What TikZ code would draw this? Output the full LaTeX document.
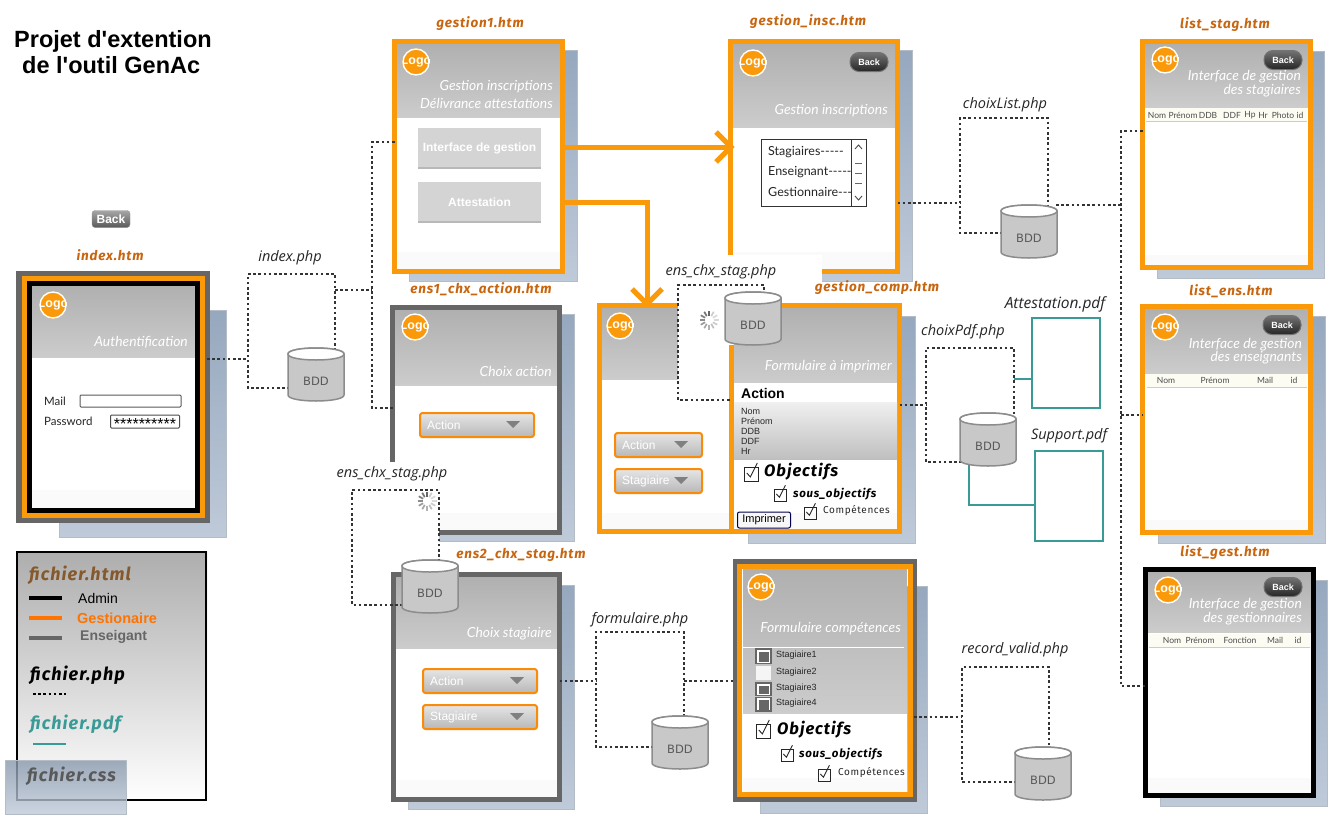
\documentclass[tikz,border=0pt]{standalone}
\usepackage{fontspec}
\setmainfont{Liberation Sans}
\newfontfamily\lat{Lato}
\newfontfamily\hand[LetterSpace=6]{Fira Sans}
\newfontfamily\opn{Open Sans}
\newfontfamily\djv{DejaVu Sans}
\newfontfamily\ttlf{Liberation Sans}
\definecolor{orfr}{HTML}{FA9A0A}
\definecolor{grfr}{HTML}{666666}
\definecolor{lblor}{HTML}{C8650F}
\definecolor{shadtop}{HTML}{96A8BE}
\definecolor{shadbot}{HTML}{BFCAD9}
\definecolor{shadln}{HTML}{B4BCC6}
\definecolor{hdtop}{HTML}{B0B0B0}
\definecolor{hdbot}{HTML}{CCCCCC}
\definecolor{tealx}{HTML}{3A9A96}
\definecolor{bddf}{HTML}{C8C8C8}
\definecolor{bddl}{HTML}{8C8C8C}
\newcounter{nn}
\newcommand\fs[1]{\fontsize{#1}{#1}\selectfont}
\tikzset{
 x=1pt,y=-1pt,
 pagefile/.style={font=\hand\bfseries\itshape\fs{13.5},text=lblor},
 phpfile/.style={font=\opn\itshape\fs{14.5},text=black!85},
 headt/.style={font=\lat\itshape\fs{13.9},text=white,anchor=east,align=right},
 phpline/.style={draw=black!80,line width=1.1pt,dash pattern=on 2.6pt off 2.6pt},
 pdfline/.style={draw=tealx,line width=1.2pt},
 flowline/.style={draw=orfr,line width=5pt},
 handsmall/.style={font=\lat\fs{11.5},text=black!85,anchor=west},
 tabh/.style={font=\lat\fs{8.5},text=black!70},
 backdark/.style={draw=black!55,line width=1pt,rounded corners=9pt,top color=black!55,bottom color=black!85,minimum width=38pt,minimum height=19pt,inner sep=0pt,text=white,font=\bfseries\fs{9}},
 greybtn/.style={fill=black!17,inner sep=0pt,text=white,font=\bfseries\fs{12}},
}
\newcommand\tx[4][]{\stepcounter{nn}\node[inner sep=0pt,#1] (n\arabic{nn}) at ({#2},{#3}) {#4};}
\newcommand\shadowbox[4]{\shade[top color=shadtop,bottom color=shadbot] (#1,#2) rectangle (#3,#4);\draw[shadln,line width=1pt] (#1,#2) rectangle (#3,#4);}
% panel: x0 y0 x1 y1 header-bottom band-top
\newcommand\panel[6]{\fill[white] (#1,#2) rectangle (#3,#4);
 \shade[top color=hdtop,bottom color=hdbot] (#1,#2) rectangle (#3,#5);
 \fill[black!2] (#1,#6) rectangle (#3,#4);}
% frame: name x0 y0 x1 y1 colour lw (outer extents)
\newcommand\frm[7]{\node[draw=#6,line width=#7pt,inner sep=0pt,outer sep=0pt,minimum width={#4-#2-#7},minimum height={#5-#3-#7}] (#1) at ({(#2+#4)/2},{(#3+#5)/2}) {};}
\newcommand\logo[2]{\stepcounter{nn}\begin{scope}\clip (#1,#2) circle (13.5);
 \fill[orfr] (#1,#2) circle (13.5);
 \node[inner sep=0pt,text=white,font=\bfseries\fs{12.5}] (n\arabic{nn}) at (#1,#2) {Logo};
 \end{scope}\draw[white,line width=1.4pt] (#1,#2) circle (13);}
\newcommand\bdd[3]{\begin{scope}[shift={(#2,#3)}]
 \path[fill=bddf,draw=bddl,line width=1.5pt] (0,6) -- (0,47) .. controls (0,55) and (56,55) .. (56,47) -- (56,6) .. controls (56,-2) and (0,-2) .. (0,6) -- cycle;
 \path[fill=white,draw=bddl,line width=1.5pt] (0,6) .. controls (0,-2) and (56,-2) .. (56,6) .. controls (56,14) and (0,14) .. (0,6) -- cycle;
 \node[inner sep=0pt,font=\djv\fs{11.5},text=black!65] (#1) at (28,33) {BDD};
 \end{scope}}
\newcommand\combo[6]{\draw[draw=orfr!90!red,line width=2pt,rounded corners=2.5pt,top color=black!10,bottom color=black!28] (#1,#2) rectangle (#3,#4);
 \tx[anchor=west,text=white,font=\fs{12}]{#1+7}{(#2+#4)/2+.5}{#5}
 \fill[black!50] (#6-7,#2+8) -- (#6+7,#2+8) -- (#6,#2+15) -- cycle;}
\newcommand\chk[3]{\draw[black!85,line width=.9pt] (#1-#3/2,#2-#3/2+2) rectangle (#1+#3/2,#2+#3/2+2);
 \draw[black!85,line width=.9pt] (#1-#3*.3,#2+1) -- (#1-#3*.05,#2+#3*.35) -- (#1+#3*.45,#2-#3*.65);}
\newcommand\spin[2]{\foreach \a/\g in {0/15,30/20,60/25,90/30,120/35,150/40,180/45,210/50,240/55,270/60,300/20,330/15}{\draw[black!\g,line width=1.7pt] ({#1+4.5*cos(\a)},{#2+4.5*sin(\a)}) -- ({#1+9.5*cos(\a)},{#2+9.5*sin(\a)});}}
\newcommand\tabbar[4]{\fill[black!22!yellow!5!white] (#1,#2) rectangle (#3,#4);\fill[black!20] (#1,#4-1.5) rectangle (#3,#4);}
\begin{document}
\begin{tikzpicture}
\useasboundingbox (0,0) rectangle (1337,822);
\fill[white] (0,0) rectangle (1337,822);
% title
\tx[anchor=west,font=\ttlf\bfseries\fs{23.5}]{14}{41}{Projet d'extention}
\tx[anchor=west,font=\ttlf\bfseries\fs{23.5}]{22}{65}{de l'outil GenAc}
% small back
\node[rounded corners=3pt,top color=black!35,bottom color=black!65,draw=black!40,minimum width=38pt,minimum height=17pt,inner sep=0pt,text=white,font=\bfseries\fs{12}] (topback) at (111,219) {Back};
% ---- index
\shadowbox{59}{310}{226}{537}
\panel{32}{286}{195}{508}{357}{490}
\frm{idxg}{16}{271}{210}{523}{grfr}{6}
\frm{idxo}{22}{276}{205}{518}{orfr}{5}
\frm{idxk}{27}{281}{200}{513}{black}{5}
\logo{53}{305}
\tx[headt]{188}{342}{Authentification}
\tx[handsmall]{44}{401}{Mail}
\tx[handsmall]{44}{421}{Password}
\node[draw=black!65,line width=1pt,rounded corners=1pt,minimum width=101pt,minimum height=12pt,inner sep=0pt] (mailf) at (130.5,401) {};
\node[draw=black!70,line width=1pt,rounded corners=1pt,minimum width=69pt,minimum height=13pt,inner sep=0pt,font=\fs{16},text height=6pt,text depth=0pt] (passf) at (145,421.5) {\raisebox{-4.5pt}{**********}};
\tx[pagefile]{110}{255}{index.htm}
% ---- gestion1
\shadowbox{409}{50}{577}{281}
\panel{397}{44}{560}{269}{117}{252}
\frm{gone}{392}{39}{565}{274}{orfr}{5}
\logo{416}{62}
\tx[headt]{553}{87}{Gestion inscriptions}
\tx[headt]{553}{103}{Délivrance attestations}
\node[greybtn,minimum width=123pt,minimum height=40pt] (bif) at (479.5,148) {Interface de gestion};
\fill[black!28] (418,167) rectangle (541,168.5);
\node[greybtn,minimum width=123pt,minimum height=40pt] (bat) at (479.5,202) {Attestation};
\fill[black!28] (418,221) rectangle (541,222.5);
\tx[pagefile]{480}{24}{gestion1.htm}
% ---- gestion_insc
\shadowbox{745}{50}{912}{281}
\panel{733}{44}{895}{269}{127}{252}
\frm{gins}{728}{39}{900}{274}{orfr}{5}
\logo{753}{63}
\node[backdark] (bins) at (869,62) {Back};
\tx[headt]{888}{111}{Gestion inscriptions}
\tx[pagefile]{808}{22}{gestion\_insc.htm}
\draw[black!80,line width=1pt] (761,139) rectangle (866,206);
\draw[black!80,line width=1pt] (851,139) -- (851,206);
\tx[handsmall,font=\lat\fs{12.5}]{768}{152}{Stagiaires-----}
\tx[handsmall,font=\lat\fs{12.5}]{768}{172}{Enseignant-----}
\tx[handsmall,font=\lat\fs{12.5}]{768}{192}{Gestionnaire---}
\draw[black!70,line width=.9pt] (855,149) -- (858.5,145) -- (862,149);
\draw[black!70,line width=.9pt] (855,196) -- (858.5,200) -- (862,196);
\foreach \yy in {163,173,183}{\draw[black!60,line width=1pt] (855,\yy) -- (862,\yy);}
% cut-out below gestion_insc
\fill[white] (720,255) rectangle (822,288);
% ---- list_stag
\shadowbox{1157}{51}{1324}{278}
\panel{1145}{44}{1308}{265}{107}{255}
\frm{lsta}{1140}{39}{1313}{270}{orfr}{5}
\logo{1165}{60}
\node[backdark] (bsta) at (1283,60) {Back};
\tx[headt]{1301}{77}{Interface de gestion}
\tx[headt]{1301}{91}{des stagiaires}
\tabbar{1146}{108}{1307}{122}
\foreach \xx/\lb in {1157/Nom,1183/Prénom,1208/DDB,1232/DDF,1250/Hp,1263/Hr,1283/Photo,1300/id}{\tx[tabh]{\xx}{115}{\lb}}
\tx[pagefile]{1225}{25}{list\_stag.htm}
% ---- list_ens
\shadowbox{1158}{316}{1325}{543}
\panel{1145}{309}{1308}{530}{373}{520}
\frm{lens}{1140}{304}{1313}{535}{orfr}{5}
\logo{1165}{327}
\node[backdark] (bens) at (1282,325) {Back};
\tx[headt]{1302}{345}{Interface de gestion}
\tx[headt]{1302}{358}{des enseignants}
\tabbar{1147}{374}{1307}{388}
\foreach \xx/\lb in {1166/Nom,1215/Prénom,1265/Mail,1294/id}{\tx[tabh]{\xx}{380}{\lb}}
\tx[pagefile]{1231}{291}{list\_ens.htm}
% ---- list_gest
\shadowbox{1160}{580}{1327}{806}
\panel{1148}{572}{1311}{793}{632}{778}
\frm{lges}{1143}{567}{1316}{798}{black}{5}
\logo{1168}{590}
\node[backdark] (bges) at (1283,587) {Back};
\tx[headt]{1302}{605}{Interface de gestion}
\tx[headt]{1302}{619}{des gestionnaires}
\tabbar{1149}{634}{1310}{648}
\foreach \xx/\lb in {1172/Nom,1200/Prénom,1240/Fonction,1275/Mail,1298/id}{\tx[tabh]{\xx}{640}{\lb}}
\tx[pagefile]{1225}{553}{list\_gest.htm}
% ---- ens1
\shadowbox{408}{314}{574}{541}
\panel{395}{310}{557}{530}{385}{513}
\frm{eone}{390}{305}{562}{535}{grfr}{5}
\logo{415}{327}
\tx[headt]{552}{371}{Choix action}
\combo{420}{413}{534}{437}{Action}{513}
\tx[pagefile]{481}{289}{ens1\_chx\_action.htm}
% ---- ens2
\shadowbox{408}{585}{574}{809}
\panel{396}{577}{557}{797}{648}{780}
\frm{etwo}{391}{572}{562}{802}{grfr}{5}
\tx[headt]{552}{634}{Choix stagiaire}
\combo{423}{669}{537}{693}{Action}{517}
\combo{423}{705}{537}{729}{Stagiaire}{517}
\tx[pagefile]{521}{555}{ens2\_chx\_stag.htm}
% cut-out over ens1 corner
\fill[white] (330,462) rectangle (439,566);
% ---- gestion_comp
\shadowbox{748}{316}{915}{543}
\panel{602}{308}{729}{529}{379}{513}
\panel{734}{308}{897}{529}{382}{513}
\frm{gcom}{597}{303}{902}{534}{orfr}{5}
\draw[orfr,line width=5pt] (731.5,345) -- (731.5,532);
\logo{620}{326}
\tx[headt]{892}{367}{Formulaire à imprimer}
\fill[white] (735,383) rectangle (896,402);
\tx[anchor=west,font=\bfseries\fs{14}]{741}{393}{Action}
\shade[top color=black!6,bottom color=black!25] (734,402) rectangle (897,459);
\foreach \yy/\lb in {411/Nom,421/Prénom,431/DDB,441/DDF,451/Hr}{\tx[anchor=west,font=\fs{9},text=black!85]{741}{\yy}{\lb}}
\combo{615}{433}{702}{457}{Action}{681}
\combo{615}{469}{702}{493}{Stagiaire}{681}
\chk{751}{472}{14}
\tx[anchor=west,font=\hand\bfseries\itshape\fs{16.5}]{764}{472}{Objectifs}
\chk{780}{493}{12}
\tx[anchor=west,font=\hand\bfseries\itshape\fs{11.5}]{793}{494}{sous\_objectifs}
\chk{810}{511}{12}
\tx[anchor=west,font=\hand\fs{10},text=black!85]{823}{511}{Compétences}
\node[draw=black!70!blue,fill=black!3,rounded corners=2pt,line width=1pt,minimum width=53pt,minimum height=16pt,inner sep=0pt,font=\fs{11}] (impr) at (764,520) {Imprimer};
\tx[pagefile]{877}{288}{gestion\_comp.htm}
% cut-out for the php box
\fill[white] (678,285) rectangle (729,400);
% ---- form comp
\shadowbox{760}{586}{927}{813}
\panel{743}{569}{907}{792}{713}{778}
\frm{fcog}{733}{559}{917}{802}{grfr}{6}
\frm{fcoo}{737}{564}{913}{797}{orfr}{5}
\logo{761}{587}
\tx[headt]{901}{629}{Formulaire compétences}
\draw[white,line width=1pt] (742,647) -- (904,647);
\foreach \yy/\hh/\lb in {656/16/Stagiaire1,689/14/Stagiaire3,704/15/Stagiaire4}{\fill[grfr] (755,\yy-\hh/2) rectangle (772,\yy+\hh/2);\fill[white] (757,\yy-\hh/2+1.5) rectangle (770,\yy+\hh/2-1.5);\fill[grfr] (759,\yy-\hh/2+3.5) rectangle (769,\yy+\hh/2-2);\tx[anchor=west,font=\fs{9},text=black!85]{776}{\yy-1}{\lb}}
\fill[black!4] (756,666) rectangle (771,680);
\tx[anchor=west,font=\fs{9},text=black!85]{776}{672}{Stagiaire2}
\chk{763}{729}{14}
\tx[anchor=west,font=\hand\bfseries\itshape\fs{16.5}]{777}{730}{Objectifs}
\chk{787}{753}{12}
\tx[anchor=west,font=\hand\bfseries\itshape\fs{11.5}]{799}{754}{sous\_objectifs}
\chk{824}{773}{12}
\tx[anchor=west,font=\hand\fs{10},text=black!85]{838}{773}{Compétences}
% ---- legend
\shade[top color=black!32,bottom color=white] (16,551) rectangle (207,801);
\node[draw=black,line width=2.5pt,inner sep=0pt,minimum width=189pt,minimum height=248pt] (legend) at (111.5,676) {};
\tx[anchor=west,font=\hand\bfseries\itshape\fs{18},text=brown!70!black]{29}{575}{fichier.html}
\draw[black,line width=4pt] (29,598) -- (62,598);
\tx[anchor=west,font=\fs{14},text=black]{78}{598}{Admin}
\draw[orange!90!red,line width=4pt] (29,618) -- (62,618);
\tx[anchor=west,font=\bfseries\fs{14.5},text=orange!90!red]{77}{618}{Gestionaire}
\draw[grfr,line width=4pt] (29,638) -- (62,638);
\tx[anchor=west,font=\bfseries\fs{14},text=grfr]{80}{637}{Enseigant}
\tx[anchor=west,font=\hand\bfseries\itshape\fs{18}]{30}{675}{fichier.php}
\draw[phpline,draw=black,line width=1.5pt] (33,694) -- (66,694);
\tx[anchor=west,font=\hand\bfseries\itshape\fs{18},text=tealx]{30}{724}{fichier.pdf}
\draw[tealx,line width=2.2pt] (33,744) -- (66,744);
\shade[top color=shadtop!90!black,bottom color=shadbot,opacity=.8] (5,760) rectangle (126,814);
\draw[shadln,line width=1pt] (5,760) rectangle (126,814);
\tx[anchor=west,font=\hand\bfseries\itshape\fs{18},text=black!65]{27}{776}{fichier.css}
% ---- junction points
\coordinate (ia) at (248,359); \coordinate (ib) at (248,274); \coordinate (ic) at (335,274);
\coordinate (id) at (335,350); \coordinate (ie) at (248,388); \coordinate (if) at (290,388);
\coordinate (ig) at (335,290); \coordinate (ih) at (372,290);
\coordinate (ij) at (372,142); \coordinate (ik) at (372,408);
\coordinate (la) at (960,203); \coordinate (lb) at (960,118); \coordinate (lc) at (1048,118);
\coordinate (ld) at (1048,208); \coordinate (le) at (960,233); \coordinate (lf) at (1003,233);
\coordinate (lg) at (1056,205); \coordinate (lh) at (1121,205); \coordinate (lj) at (1121,131); \coordinate (lk) at (1121,415); \coordinate (ll) at (1121,686);
\coordinate (ta) at (764,295); \coordinate (tb) at (764,285); \coordinate (tc) at (678,285); \coordinate (td) at (678,400); \coordinate (te) at (732,400);
\coordinate (ua) at (439,562); \coordinate (ub) at (439,490); \coordinate (uc) at (352,490); \coordinate (ud) at (352,605); \coordinate (ue) at (404,605);
\coordinate (pa) at (926,405); \coordinate (pb) at (926,348); \coordinate (pc) at (1014,348); \coordinate (pd) at (1014,415); \coordinate (pe) at (926,462); \coordinate (pf) at (962,462);
\coordinate (qa) at (596,681); \coordinate (qb) at (596,632); \coordinate (qc) at (684,632); \coordinate (qd) at (684,718); \coordinate (qe) at (596,747); \coordinate (qf) at (654,747); \coordinate (qg) at (684,681);
\coordinate (ra) at (962,717); \coordinate (rb) at (962,667); \coordinate (rc) at (1049,667); \coordinate (rd) at (1049,749); \coordinate (re) at (962,782); \coordinate (rf) at (1017,782);
% ---- php connectors
\draw[phpline] (idxg.east |- ia) -- (ia);
\draw[phpline] (if) -- (ie) -- (ib) -- (ic) -- (id);
\draw[phpline] (ig) -- (ih);
\draw[phpline] (gone.west |- ij) -- (ij) -- (ik) -- (eone.west |- ik);
\draw[phpline] (gins.east |- la) -- (la);
\draw[phpline] (lf) -- (le) -- (lb) -- (lc) -- (ld);
\draw[phpline] (lg) -- (lh);
\draw[phpline] (lsta.west |- lj) -- (lj) -- (ll) -- (lges.west |- ll);
\draw[phpline] (lk) -- (lens.west |- lk);
\draw[phpline] (ta) -- (tb) -- (tc) -- (td) -- (te);
\draw[phpline] (ua) -- (ub) -- (uc) -- (ud) -- (ue);
\draw[phpline] (gcom.east |- pa) -- (pa);
\draw[phpline] (pf) -- (pe) -- (pb) -- (pc) -- (pd);
\draw[phpline] (etwo.east |- qa) -- (qa);
\draw[phpline] (qf) -- (qe) -- (qb) -- (qc) -- (qd);
\draw[phpline] (qg) -- (fcog.west |- qg);
\draw[phpline] (fcog.east |- ra) -- (ra);
\draw[phpline] (rf) -- (re) -- (rb) -- (rc) -- (rd);
% ---- flow arrows
\coordinate (fa) at (565,147); \coordinate (fb) at (731,147);
\coordinate (fc) at (565,202); \coordinate (fd) at (647,202); \coordinate (fe) at (647,304);
\draw[flowline] (fa) -- (fb);
\draw[flowline] (716,132) -- (fb) -- (716,162);
\draw[flowline] (fc) -- (fd) -- (fe);
\draw[flowline] (632,289) -- (fe) -- (662,289);
% ---- pdf boxes
\node[draw=tealx,line width=2.5pt,fill=white,inner sep=0pt,minimum width=68pt,minimum height=90pt] (attp) at (1066,363) {};
\node[draw=tealx,line width=2.5pt,fill=white,inner sep=0pt,minimum width=68pt,minimum height=90pt] (supp) at (1069,496) {};
\coordinate (pg) at (1014,379); \coordinate (ph) at (969,465); \coordinate (pj) at (969,505);
\draw[pdfline] (pg) -- (attp.west |- pg);
\draw[pdfline] (ph) -- (pj) -- (supp.west |- pj);
% ---- BDD
\bdd{bIdx}{288}{348}
\bdd{bLst}{1001}{205}
\bdd{bTop}{725}{292}
\bdd{bLow}{402}{560}
\bdd{bPdf}{960}{413}
\bdd{bFor}{652}{716}
\bdd{bRec}{1015}{747}
\spin{709}{320}
\spin{427}{501}
% ---- labels
\tx[phpfile]{290}{258}{index.php}
\tx[phpfile]{1005}{105}{choixList.php}
\tx[phpfile]{721}{272}{ens\_chx\_stag.php}
\tx[phpfile]{392}{474}{ens\_chx\_stag.php}
\tx[phpfile]{963}{332}{choixPdf.php}
\tx[phpfile,font=\opn\itshape\fs{15.5}]{1055}{304}{Attestation.pdf}
\tx[phpfile]{1069}{436}{Support.pdf}
\tx[phpfile]{640}{620}{formulaire.php}
\tx[phpfile]{1015}{650}{record\_valid.php}
\end{tikzpicture}
\end{document}
